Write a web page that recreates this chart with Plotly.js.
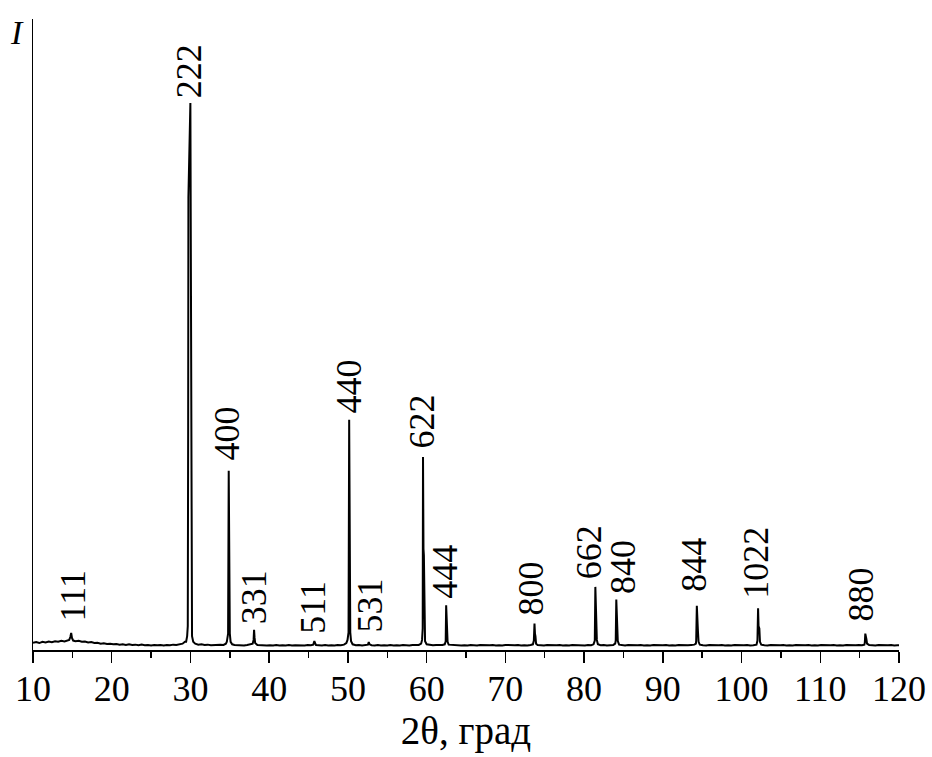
<!DOCTYPE html>
<html>
<head>
<meta charset="utf-8">
<script src="https://cdn.plot.ly/plotly-3.0.1.min.js"></script>
<style>html,body{margin:0;padding:0;background:#fff;}#chart{width:932px;height:757px;}</style>
</head>
<body>
<div id="chart"></div>
<script>
// Diffraction pattern: 2theta (degrees) and relative intensity (arbitrary units)
const twoTheta = [
10.0,10.4,10.8,11.2,11.6,12.0,12.4,12.8,13.2,13.6,14.0,14.4,14.6,14.75,14.85,14.95,15.1,15.4,15.8,16.2,16.6,17.0,17.4,17.8,18.2,18.6,19.0,19.4,19.8,20.2,20.6,21.0,21.4,21.8,22.2,22.6,23.0,23.4,23.8,24.2,24.6,25.0,25.4,25.8,26.2,26.6,27.0,27.4,27.8,28.2,28.6,29.0,29.3,
29.45,29.58,29.66,29.71,29.74,29.99,30.03,30.08,30.12,30.2,30.35,
30.6,31.0,31.4,31.8,32.2,32.6,33.0,33.4,33.8,34.2,34.5,
34.62,34.78,34.86,34.9,34.95,35.0,35.1,35.3,
35.6,36.0,36.4,36.8,37.2,37.6,
37.9,38.02,38.08,38.14,38.22,
38.5,38.9,39.3,39.7,40.1,40.5,40.9,41.3,41.7,42.1,42.5,42.9,43.3,43.7,44.1,44.5,44.9,45.3,
45.6,45.74,45.82,45.95,
46.3,46.7,47.1,47.5,47.9,48.3,48.7,49.1,49.5,49.8,
49.95,50.08,50.16,50.21,50.26,50.3,50.4,
50.6,51.0,51.4,51.8,52.2,
52.55,52.65,52.75,
53.0,53.4,53.8,54.2,54.6,55.0,55.4,55.8,56.2,56.6,57.0,57.4,57.8,58.2,58.6,59.0,59.3,
59.42,59.5,59.54,59.6,59.65,59.7,59.8,
60.0,60.4,60.8,61.2,61.6,62.0,62.3,
62.42,62.48,62.54,62.6,62.66,
62.8,63.2,63.6,64.0,64.4,64.8,65.2,65.6,66.0,66.4,66.8,67.2,67.6,68.0,68.4,68.8,69.2,69.6,70.0,70.4,70.8,71.2,71.6,72.0,72.4,72.8,73.2,73.5,
73.62,73.7,73.76,73.82,73.9,
74.1,74.5,74.9,75.3,75.7,76.1,76.5,76.9,77.3,77.7,78.1,78.5,78.9,79.3,79.7,80.1,80.5,80.9,81.2,
81.36,81.43,81.5,81.56,81.62,
81.75,82.1,82.5,82.9,83.3,83.7,83.95,
84.02,84.09,84.15,84.21,84.28,
84.45,84.8,85.2,85.6,86.0,86.4,86.8,87.2,87.6,88.0,88.4,88.8,89.2,89.6,90.0,90.4,90.8,91.2,91.6,92.0,92.4,92.8,93.2,93.6,94.0,94.2,
94.24,94.32,94.38,94.46,94.54,
94.7,95.1,95.5,95.9,96.3,96.7,97.1,97.5,97.9,98.3,98.7,99.1,99.5,99.9,100.3,100.7,101.1,101.5,101.9,
102.02,102.1,102.16,102.26,102.34,
102.5,102.9,103.3,103.7,104.1,104.5,104.9,105.3,105.7,106.1,106.5,106.9,107.3,107.7,108.1,108.5,108.9,109.3,109.7,110.1,110.5,110.9,111.3,111.7,112.1,112.5,112.9,113.3,113.7,114.1,114.5,114.9,115.3,115.6,
115.66,115.72,115.78,115.86,115.94,
116.2,116.6,117.0,117.4,117.8,118.2,118.6,119.0,119.4,119.8,120.0
];
const intensity = [
1.15,1.25,1.1,1.3,1.2,1.35,1.25,1.4,1.3,1.45,1.35,1.5,1.6,2.1,2.7,1.9,1.5,1.4,1.45,1.3,1.35,1.2,1.25,1.1,1.15,1.0,1.05,0.95,1.0,0.9,0.95,0.85,0.9,0.8,0.9,0.8,0.85,0.75,0.85,0.75,0.8,0.7,0.8,0.75,0.8,0.7,0.8,0.75,0.85,0.8,0.9,1.0,1.3,
1.3,2.2,3.8,35.5,71.7,86.7,71.0,35.5,4.0,2.2,1.3,
1.0,0.85,0.9,0.8,0.85,0.75,0.8,0.75,0.85,0.8,1.0,
1.3,2.6,28.4,14.6,13.5,2.6,1.3,0.9,
0.8,0.75,0.8,0.7,0.8,0.85,
1.0,1.6,3.2,2.0,1.1,
0.8,0.75,0.8,0.7,0.75,0.7,0.8,0.7,0.75,0.7,0.8,0.7,0.75,0.7,0.75,0.7,0.8,0.75,
0.85,1.4,1.1,0.8,
0.75,0.7,0.8,0.7,0.75,0.7,0.8,0.75,0.85,1.1,
1.6,2.8,36.5,18.9,17.5,2.8,1.4,
0.9,0.75,0.8,0.7,0.75,
0.85,1.25,0.9,
0.75,0.7,0.8,0.7,0.75,0.7,0.8,0.7,0.75,0.7,0.8,0.75,0.7,0.8,0.75,0.8,1.0,
1.6,3.4,30.6,16.0,15.0,3.2,1.4,
0.9,0.8,0.75,0.8,0.75,0.8,0.9,
1.4,7.1,3.8,3.2,1.3,
0.85,0.8,0.75,0.8,0.7,0.75,0.7,0.8,0.75,0.7,0.8,0.75,0.7,0.75,0.8,0.7,0.75,0.7,0.8,0.75,0.7,0.75,0.8,0.7,0.75,0.7,0.8,0.9,
1.5,4.2,2.6,2.2,1.0,
0.8,0.75,0.7,0.8,0.75,0.7,0.75,0.8,0.7,0.75,0.7,0.8,0.75,0.7,0.75,0.7,0.8,0.75,0.9,
1.5,10.0,5.6,5.0,1.6,
0.9,0.75,0.8,0.7,0.75,0.8,1.0,
1.5,8.0,4.8,4.2,1.4,
0.85,0.75,0.7,0.8,0.75,0.7,0.75,0.8,0.7,0.75,0.7,0.8,0.75,0.7,0.75,0.8,0.7,0.75,0.7,0.8,0.75,0.7,0.75,0.8,0.85,1.0,
1.5,7.0,3.6,3.0,1.3,
0.85,0.75,0.7,0.8,0.75,0.7,0.75,0.8,0.7,0.75,0.7,0.8,0.75,0.7,0.75,0.8,0.7,0.75,0.85,
1.5,6.6,3.8,3.4,1.3,
0.85,0.75,0.7,0.8,0.75,0.7,0.75,0.8,0.7,0.75,0.7,0.8,0.75,0.7,0.75,0.8,0.7,0.75,0.7,0.8,0.75,0.7,0.75,0.8,0.7,0.75,0.7,0.8,0.75,0.7,0.75,0.8,0.75,0.85,
1.2,2.6,1.8,1.7,1.0,
0.8,0.75,0.7,0.8,0.75,0.7,0.75,0.8,0.7,0.75,0.75
];

// Reflection (hkl) labels and where each label sits (2theta, intensity at label base)
const peakLabels = ["111","222","400","331","511","440","531","622","444","800","662","840","844","1022","880"];
const labelTheta = [15.04,29.76,34.58,38.0,45.6,50.2,52.86,59.35,62.4,73.26,80.66,84.93,93.86,101.8,115.14];
const labelBase  = [4.4,87.2,29.8,4.0,2.4,37.4,2.7,31.7,7.9,5.3,11.1,8.7,9.1,7.9,4.3];

const xTicks = [10,20,30,40,50,60,70,80,90,100,110,120];

const serif = "Liberation Serif";

const annotations = peakLabels.map((t, i) => ({
  x: labelTheta[i], y: labelBase[i], xref: 'x', yref: 'y',
  text: t, textangle: -90, showarrow: false,
  xanchor: 'center', yanchor: 'bottom', borderpad: 0,
  font: {family: serif, size: 36, color: '#000'}
}));
annotations.push({
  x: 0, y: 1, xref: 'paper', yref: 'paper', xanchor: 'right', yanchor: 'top',
  xshift: -7, yshift: 7, text: '<i>I</i>', showarrow: false,
  font: {family: serif, size: 34, color: '#000'}
});

const trace = {
  x: twoTheta, y: intensity, type: 'scatter', mode: 'lines',
  line: {color: '#000', width: 2}, hoverinfo: 'skip'
};

const layout = {
  width: 932, height: 757,
  margin: {l: 33, r: 33, t: 19, b: 107},
  paper_bgcolor: '#fff', plot_bgcolor: '#fff',
  showlegend: false,
  font: {family: serif, color: '#000'},
  xaxis: {
    range: [10, 120], tickmode: 'array', tickvals: xTicks, ticktext: xTicks.map(String),
    ticks: 'outside', ticklen: 11, tickwidth: 1.5, tickcolor: '#000',
    minor: {dtick: 5, tick0: 0, ticks: 'outside', ticklen: 6, tickwidth: 1.5, tickcolor: '#000'},
    showline: true, linecolor: '#000', linewidth: 1.5,
    showgrid: false, zeroline: false,
    ticklabelstandoff: -5,
    tickfont: {family: serif, size: 36, color: '#000'},
    title: {text: '2θ, град', font: {family: serif, size: 39, color: '#000'}, standoff: 2}
  },
  yaxis: {
    range: [0, 100], showline: true, linecolor: '#000', linewidth: 1.5,
    showticklabels: false, ticks: '', showgrid: false, zeroline: false
  },
  annotations: annotations
};

Plotly.newPlot('chart', [trace], layout, {displayModeBar: false, staticPlot: true});
</script>
</body>
</html>
